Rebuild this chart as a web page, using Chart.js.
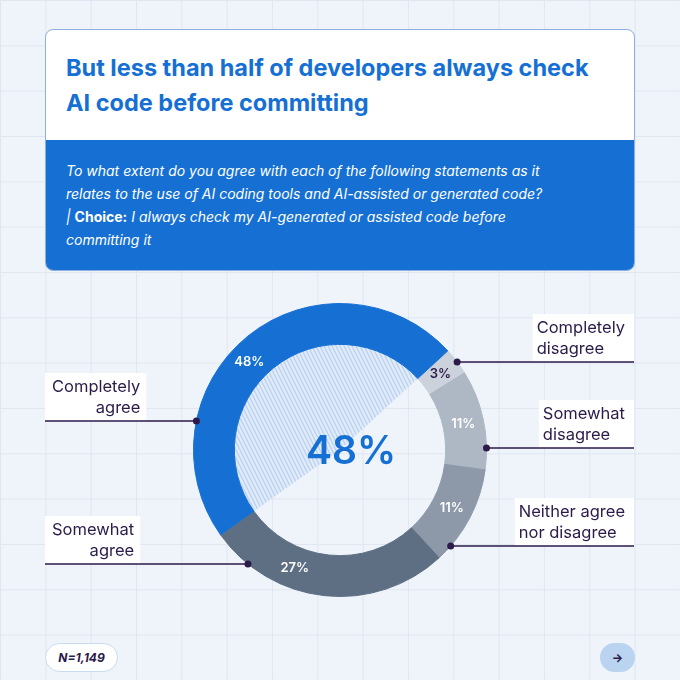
<!DOCTYPE html>
<html>
<head>
<meta charset="utf-8">
<script src="https://cdn.jsdelivr.net/npm/chart.js@4.4.1/dist/chart.umd.min.js"></script>
<style>
  html, body { margin: 0; padding: 0; }
  body {
    width: 680px; height: 680px; position: relative; overflow: hidden;
    background-color: #EFF3FA;
    background-image:
      linear-gradient(to right, #E0E6F0 1px, transparent 1px),
      linear-gradient(to bottom, #E0E6F0 1px, transparent 1px);
    background-size: 45.333px 45.333px;
    font-family: 'Inter', sans-serif;
  }
  .card {
    position: absolute; left: 45px; top: 29px; width: 588px; height: 240px;
    border: 1px solid #8DB0DE; border-radius: 8px; overflow: hidden; background: #fff;
  }
  .card h1 {
    margin: 0; height: 110px; box-sizing: border-box; padding: 21px 0 0 20px;
    font-size: 23.5px; line-height: 34.5px; font-weight: 700; color: #1670D4;
  }
  .card .q {
    background: #1670D4; height: 130px; box-sizing: border-box; padding: 19px 16px 0 20px;
    color: #fff; font-size: 14px; line-height: 23px; font-style: italic;
  }
  .card .q b { font-style: normal; font-weight: 700; }
  #wrap { position: absolute; left: 0; top: 290px; width: 680px; height: 320px; }
  .pill {
    position: absolute; left: 45px; top: 643px; width: 73px; height: 29px; box-sizing: border-box;
    border: 1px solid #CADBF0; border-radius: 15px; background: #fff;
    font-size: 12px; font-weight: 700; font-style: italic; color: #2B1A4A;
    display: flex; align-items: center; justify-content: center;
  }
  .next {
    position: absolute; left: 600px; top: 643px; width: 35px; height: 29px;
    border-radius: 15px; background: #B9D3F1; color: #2B1A4A; font-size: 12px; font-weight: 700;
    display: flex; align-items: center; justify-content: center;
  }
</style>
</head>
<body>
<div class="card">
  <h1>But less than half of developers always check<br>AI code before committing</h1>
  <div class="q">To what extent do you agree with each of the following statements as it<br>relates to the use of AI coding tools and AI-assisted or generated code?<br>| <b>Choice:</b> I always check my AI-generated or assisted code before<br>committing it</div>
</div>
<div id="wrap"><canvas id="donut"></canvas></div>
<div class="pill" id="n"></div>
<div class="next">&#8594;</div>

<script>
// answer categories, clockwise from the top-right
var categories = ['Completely disagree', 'Somewhat disagree', 'Neither agree nor disagree', 'Somewhat agree', 'Completely agree'];
var shares = [3, 11, 11, 27, 48];
var labelLines = [['Completely', 'disagree'], ['Somewhat', 'disagree'], ['Neither agree', 'nor disagree'], ['Somewhat', 'agree'], ['Completely', 'agree']];
var highlight = 4;
var sampleSize = 'N=1,149';

var ringColors = ['#CBD2DC', '#AEB8C5', '#8D99A9', '#5F6F83', '#1670D4'];
var ink = '#2B1A4A';

// where each leader line sits, relative to the donut centre
var callouts = [
    { side: 'right', dy: -88 },
    { side: 'right', dy: -2 },
    { side: 'right', dy: 96 },
    { side: 'left', dy: 114 },
    { side: 'left', dy: -29 }
];
// nudge (degrees) of the value label away from the segment middle
var labelShift = [0, 0, 0, 15, -7];

document.getElementById('n').textContent = sampleSize;

// striped fill for the highlighted wedge
function hatch() {
    var c = document.createElement('canvas');
    c.width = 4; c.height = 8;
    var g = c.getContext('2d');
    g.fillStyle = '#E2ECF9';
    g.fillRect(0, 0, 4, 8);
    g.strokeStyle = '#BAD2F1';
    g.lineWidth = 1.4;
    for (var o = -4; o <= 4; o += 4) {
        g.beginPath();
        g.moveTo(o, 0);
        g.lineTo(o + 4, 8);
        g.stroke();
    }
    return g.createPattern(c, 'repeat');
}

var wedgeFill = shares.map(function (v, i) { return i === highlight ? hatch() : 'rgba(0,0,0,0)'; });

var labelsPlugin = {
    id: 'labels',
    afterDatasetsDraw: function (chart) {
        var ctx = chart.ctx;
        var meta = chart.getDatasetMeta(0);
        var cx = meta.data[0].x, cy = meta.data[0].y, R = meta.data[0].outerRadius;
        ctx.save();

        // value on each ring segment
        ctx.textAlign = 'center';
        ctx.textBaseline = 'middle';
        ctx.font = '600 13px Inter';
        meta.data.forEach(function (arc, i) {
            var a = (arc.startAngle + arc.endAngle) / 2 + labelShift[i] * Math.PI / 180;
            var r = (arc.innerRadius + arc.outerRadius) / 2;
            ctx.fillStyle = i === 0 ? ink : '#fff';
            ctx.fillText(shares[i] + '%', arc.x + Math.cos(a) * r, arc.y + Math.sin(a) * r);
        });

        // big number in the middle
        ctx.fillStyle = ringColors[highlight];
        ctx.font = '600 39px Inter';
        ctx.fillText(shares[highlight] + '%', cx + 11, cy + 2);

        // callouts
        ctx.font = '16.5px Inter';
        ctx.textBaseline = 'alphabetic';
        callouts.forEach(function (c, i) {
            var y = cy + c.dy;
            var dx = Math.sqrt(R * R - c.dy * c.dy);
            var lines = labelLines[i];
            var w = Math.max.apply(null, lines.map(function (t) { return ctx.measureText(t).width; }));
            var x0, x1, dotX, tx;
            ctx.strokeStyle = ink;
            ctx.lineWidth = 1.5;
            if (c.side === 'right') {
                dotX = cx + dx;
                x1 = 634;
                tx = x1 - 9 - w;
                x0 = tx - 4;
                ctx.fillStyle = '#fff';
                ctx.fillRect(x0, y - 48, x1 - x0, 48);
                ctx.fillStyle = ink;
                ctx.textAlign = 'left';
                ctx.fillText(lines[0], tx, y - 29);
                ctx.fillText(lines[1], tx, y - 8);
                ctx.beginPath();
                ctx.moveTo(dotX, y);
                ctx.lineTo(x1, y);
                ctx.stroke();
            } else {
                dotX = cx - dx;
                x0 = 45;
                tx = 52 + w;
                ctx.fillStyle = '#fff';
                ctx.fillRect(x0, y - 48, tx + 6 - x0, 48);
                ctx.fillStyle = ink;
                ctx.textAlign = 'right';
                ctx.fillText(lines[0], tx, y - 29);
                ctx.fillText(lines[1], tx, y - 8);
                ctx.beginPath();
                ctx.moveTo(x0, y);
                ctx.lineTo(dotX, y);
                ctx.stroke();
            }
            ctx.fillStyle = ink;
            ctx.beginPath();
            ctx.arc(dotX, y, 3.5, 0, Math.PI * 2);
            ctx.fill();
        });
        ctx.restore();
    }
};

Chart.defaults.font.family = 'Inter';

var donut = new Chart(document.getElementById('donut'), {
    type: 'doughnut',
    data: {
        labels: categories,
        datasets: [
            {
                data: shares,
                backgroundColor: ringColors,
                borderColor: ringColors,
                borderWidth: 1,
                hoverOffset: 0,
                weight: 41
            },
            {
                data: shares,
                backgroundColor: wedgeFill,
                borderWidth: 0,
                hoverOffset: 0,
                weight: 106
            }
        ]
    },
    options: {
        responsive: true,
        maintainAspectRatio: false,
        animation: false,
        events: [],
        cutout: 0,
        rotation: 47.4,
        layout: { padding: { top: 13, bottom: 13, left: 193, right: 193 } },
        plugins: { legend: { display: false }, tooltip: { enabled: false } }
    },
    plugins: [labelsPlugin]
});
</script>
</body>
</html>
